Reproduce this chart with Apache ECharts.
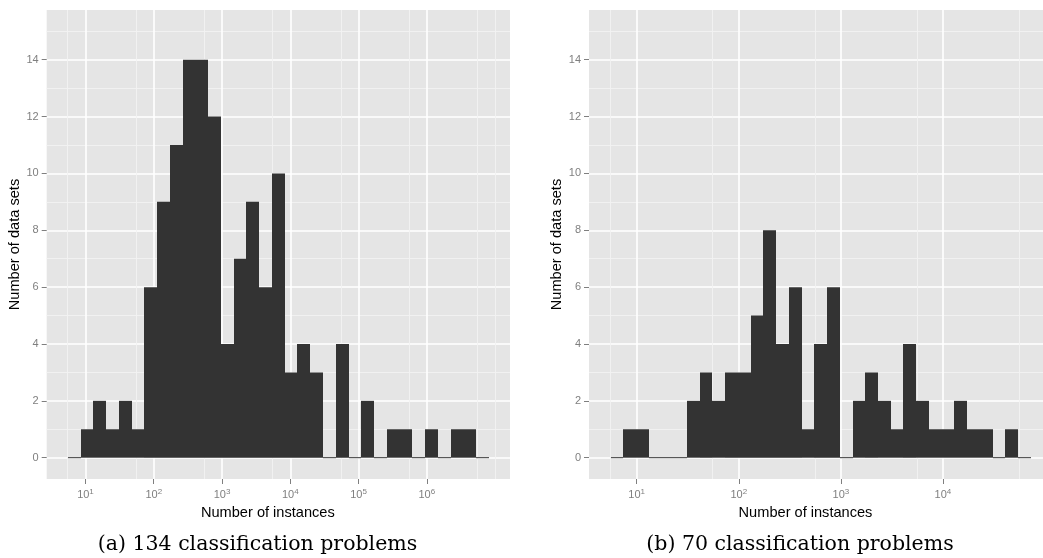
<!DOCTYPE html>
<html><head><meta charset="utf-8">
<script src="https://cdn.jsdelivr.net/npm/echarts@6/dist/echarts.min.js"></script>
<style>html,body{margin:0;padding:0;background:#fff}#c{width:1043px;height:558px}</style>
</head><body><div id="c"></div>
<script>
// Histogram counts per bin (bins are equal width in log10(instances))
const countsA = [0,1,2,1,2,1,6,9,11,14,14,12,4,7,9,6,10,3,4,3,0,4,0,2,0,1,1,0,1,0,1,1,0];
const binStartA = 0.7407;   // log10 of first bin edge
const binWidthA = 0.18695;  // bin width in log10 units
const countsB = [0,1,1,0,0,0,2,3,2,3,3,5,8,4,6,1,4,6,0,2,3,2,1,4,2,1,1,2,1,1,0,1,0];
const binStartB = 0.7453;
const binWidthB = 0.12467;

const yMajor = [0,2,4,6,8,10,12,14];
const yMinor = [1,3,5,7,9,11,13,15];
const xMajorA = [1,2,3,4,5,6];
const xMinorA = [0.74,1.74,2.74,3.74,4.74,5.74,6.74,7.0];
const xMajorB = [1,2,3,4];
const xMinorB = [0.745,1.745,2.745,3.745,4.745];
const xRangeA = [0.432, 7.219];
const xRangeB = [0.533, 4.980];
const yRange = [-0.75, 15.75];
const yTitle = 'Number of data sets';
const xTitle = 'Number of instances';
const captions = ['(a) 134 classification problems', '(b) 70 classification problems'];

const FONT = '"Liberation Sans", Arial, sans-serif';
const GREY = '#7F7F7F';

function bins(counts, start, width) {
  return counts.map((c, i) => [start + i * width, start + (i + 1) * width, c]);
}

function xAxes(gridIndex, range, major, minor) {
  return [{
    type: 'value', gridIndex, min: range[0], max: range[1],
    name: xTitle, nameLocation: 'middle', nameGap: 24,
    nameTextStyle: {color: '#000', fontSize: 14.6, fontFamily: FONT, padding: [0, 21, 0, 0]},
    axisLine: {show: false, onZero: false},
    axisTick: {show: true, customValues: major, length: 5, lineStyle: {color: GREY, width: 1}},
    axisLabel: {
      customValues: major, margin: 9,
      formatter: v => '{b|10}{s|' + v + '}',
      rich: {
        b: {fontSize: 11, color: GREY, fontFamily: FONT, lineHeight: 14},
        s: {fontSize: 8, color: GREY, fontFamily: FONT, verticalAlign: 'top', lineHeight: 14}
      }
    },
    splitLine: {show: true, lineStyle: {color: '#FFFFFF', width: 1.6}}
  }, {
    type: 'value', gridIndex, min: range[0], max: range[1],
    axisLine: {show: false, onZero: false},
    axisTick: {show: false, customValues: minor},
    axisLabel: {show: false},
    splitLine: {show: true, lineStyle: {color: '#F2F2F2', width: 0.9}}
  }];
}

function yAxes(gridIndex) {
  return [{
    type: 'value', gridIndex, min: yRange[0], max: yRange[1],
    name: yTitle, nameLocation: 'middle', nameGap: 19, nameRotate: 90,
    nameTextStyle: {color: '#000', fontSize: 14.6, fontFamily: FONT},
    axisLine: {show: false, onZero: false},
    axisTick: {show: true, customValues: yMajor, length: 5, lineStyle: {color: GREY, width: 1}},
    axisLabel: {customValues: yMajor, margin: 8, color: GREY, fontSize: 11, fontFamily: FONT},
    splitLine: {show: true, lineStyle: {color: '#FFFFFF', width: 1.6}}
  }, {
    type: 'value', gridIndex, min: yRange[0], max: yRange[1],
    axisLine: {show: false, onZero: false},
    axisTick: {show: false, customValues: yMinor},
    axisLabel: {show: false},
    splitLine: {show: true, lineStyle: {color: '#F2F2F2', width: 0.9}}
  }];
}

function histSeries(xi, yi, data) {
  return {
    type: 'custom', xAxisIndex: xi, yAxisIndex: yi, data, clip: true,
    encode: {x: [0, 1], y: 2},
    renderItem(params, api) {
      const p0 = api.coord([api.value(0), api.value(2)]);
      const p1 = api.coord([api.value(1), 0]);
      const xa = Math.round(p0[0]), xb = Math.round(p1[0]);
      let y = p0[1], h = p1[1] - p0[1];
      if (h < 1) { y = p1[1] - 0.5; h = 1; }
      return {
        type: 'rect',
        shape: {x: xa, y: y, width: xb - xa, height: h},
        style: {fill: '#333333'}
      };
    }
  };
}

const chart = echarts.init(document.getElementById('c'), null, {renderer: 'canvas'});
chart.setOption({
  backgroundColor: '#FFFFFF',
  animation: false,
  grid: [
    {left: 46.7, right: 533, top: 10, bottom: 79, show: true, backgroundColor: '#E5E5E5', borderWidth: 0},
    {left: 589, right: 0, top: 10, bottom: 79, show: true, backgroundColor: '#E5E5E5', borderWidth: 0}
  ],
  xAxis: [].concat(xAxes(0, xRangeA, xMajorA, xMinorA), xAxes(1, xRangeB, xMajorB, xMinorB)),
  yAxis: [].concat(yAxes(0), yAxes(1)),
  series: [
    histSeries(0, 0, bins(countsA, binStartA, binWidthA)),
    histSeries(2, 2, bins(countsB, binStartB, binWidthB))
  ],
  graphic: [
    {type: 'text', x: 257.5, y: 545, style: {text: captions[0], fontSize: 20.5, fontFamily: '"DejaVu Serif", serif', fill: '#000', align: 'center', verticalAlign: 'middle'}},
    {type: 'text', x: 800, y: 545, style: {text: captions[1], fontSize: 20.5, fontFamily: '"DejaVu Serif", serif', fill: '#000', align: 'center', verticalAlign: 'middle'}}
  ]
});
</script>
</body></html>
